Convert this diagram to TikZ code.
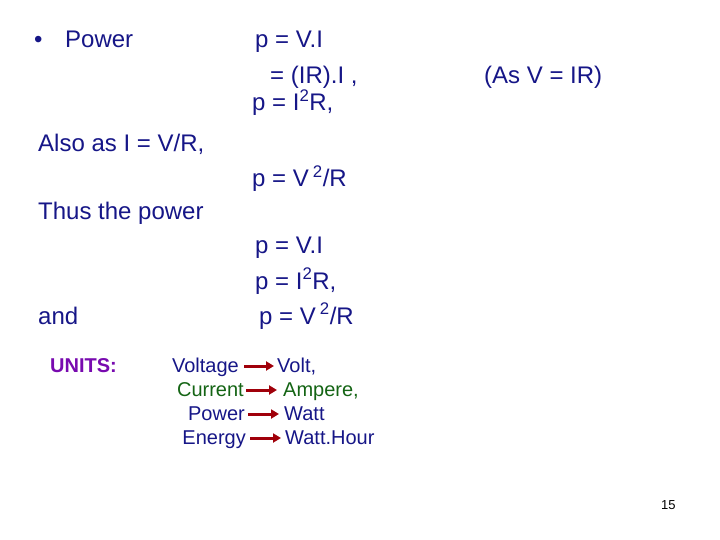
\documentclass[tikz,border=0pt]{standalone}
\usepackage{fontspec}
\setmainfont{Liberation Sans}
\usetikzlibrary{arrows.meta}
\definecolor{navy}{RGB}{22,22,135}
\definecolor{dgreen}{RGB}{20,100,20}
\definecolor{upurple}{RGB}{120,10,175}
\definecolor{darrow}{RGB}{160,0,10}
\tikzset{
  txt/.style={anchor=base west,inner sep=0pt,text=navy,font=\fontsize{24}{28}\selectfont},
  unit/.style={anchor=base east,inner sep=0pt,text=navy,font=\fontsize{20}{24}\selectfont},
  unitr/.style={anchor=base west,inner sep=0pt,text=navy,font=\fontsize{20}{24}\selectfont},
  unitarrow/.style={draw=darrow,line width=3pt,-{Triangle[length=8pt,width=9pt]}}
}
\begin{document}
\begin{tikzpicture}[x=1pt,y=-1pt]
\useasboundingbox (0,0) rectangle (720,540);
% left column
\node[txt] (bullet) at (34,48) {•};
\node[txt] (power) at (65,48) {Power};
\node[txt] (also) at (38,152) {Also as I = V/R,};
\node[txt] (thus) at (38,220) {Thus the power};
\node[txt] (and) at (38,324) {and};
% formulas
\node[txt] (f1) at (255,48) {p = V.I};
\node[txt] (f2) at (270,84) {= (IR).I ,};
\node[txt] (f2b) at (484,84) {(As V = IR)};
\node[txt] (f3) at (252,111) {p = I\textsuperscript{2}R,};
\node[txt] (f4) at (252,187) {p = V\,\textsuperscript{2}/R};
\node[txt] (g1) at (255,254) {p = V.I};
\node[txt] (g2) at (255,289) {p = I\textsuperscript{2}R,};
\node[txt] (g3) at (259,324) {p = V\,\textsuperscript{2}/R};
% units
\node[anchor=base west,inner sep=0pt,text=upurple,font=\fontsize{20}{24}\selectfont\bfseries] (units) at (50,372) {UNITS:};
\node[unit] (voltage) at (239,372) {Voltage};
\node[unit,text=dgreen] (current) at (244,396) {Current};
\node[unit] (powerU) at (245,420) {Power};
\node[unit] (energy) at (246,444) {Energy};
\node[unitr] (volt) at (277,372) {Volt,};
\node[unitr,text=dgreen] (ampere) at (283,396) {Ampere,};
\node[unitr] (watt) at (284,420) {Watt};
\node[unitr] (watthour) at (285,444) {Watt.Hour};
\coordinate (a1) at ([xshift=5pt,yshift=6pt]voltage.base east);
\coordinate (a2) at ([xshift=2pt,yshift=6pt]current.base east);
\coordinate (a3) at ([xshift=3pt,yshift=6pt]powerU.base east);
\coordinate (a4) at ([xshift=4pt,yshift=6pt]energy.base east);
\draw[unitarrow] (a1) -- ([xshift=-3pt]a1 -| volt.west);
\draw[unitarrow] (a2) -- ([xshift=-6pt]a2 -| ampere.west);
\draw[unitarrow] (a3) -- ([xshift=-5pt]a3 -| watt.west);
\draw[unitarrow] (a4) -- ([xshift=-4pt]a4 -| watthour.west);
% page number
\node[anchor=base west,inner sep=0pt,font=\fontsize{13}{15}\selectfont] (pg) at (661,509) {15};
\end{tikzpicture}
\end{document}
